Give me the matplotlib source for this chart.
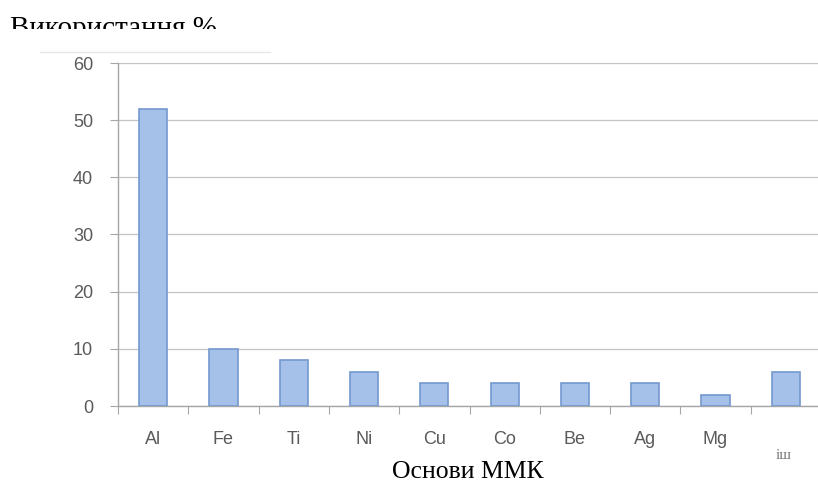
import matplotlib.pyplot as plt
from matplotlib.lines import Line2D
from matplotlib.patches import Rectangle

# share of usage by base metal, %
metals = ['Al', 'Fe', 'Ti', 'Ni', 'Cu', 'Co', 'Be', 'Ag', 'Mg', '']
usage = [52, 10, 8, 6, 4, 4, 4, 4, 2, 6]
y_ticks = [0, 10, 20, 30, 40, 50, 60]

BAR_FACE = '#a5c1ea'
BAR_EDGE = '#7398cf'
AXIS_GREY = '#a6a6a6'
LABEL_GREY = '#5a5a5a'


def draw():
    fig = plt.figure(figsize=(8.18, 4.98), dpi=100)
    ax = fig.add_axes([118 / 818, 92 / 498, 703 / 818, 343 / 498])

    x = list(range(len(metals)))
    ax.bar(x, usage, width=0.4, color=BAR_FACE, edgecolor=BAR_EDGE,
           linewidth=1.2, zorder=3)

    ax.set_xlim(-0.5, len(metals) - 0.5)
    ax.set_ylim(0, 60)
    ax.set_yticks(y_ticks)
    ax.set_yticklabels([str(v) for v in y_ticks], fontsize=13,
                       family='Liberation Sans', color=LABEL_GREY)
    ax.grid(axis='y', color='#c4c4c4', linewidth=0.9, zorder=0)

    # category labels centered, tick marks on the category boundaries
    ax.set_xticks([i - 0.5 for i in range(len(metals) + 1)])
    ax.set_xticklabels([])
    ax.set_xticks(x, minor=True)
    ax.set_xticklabels(metals, minor=True, fontsize=13,
                       family='Liberation Sans', color=LABEL_GREY)
    ax.tick_params(axis='x', which='minor', length=0, pad=18)
    ax.tick_params(axis='x', which='major', length=6, color=AXIS_GREY)
    ax.tick_params(axis='y', length=6, color=AXIS_GREY, pad=12)

    for side in ('top', 'right'):
        ax.spines[side].set_visible(False)
    for side in ('left', 'bottom'):
        ax.spines[side].set_color(AXIS_GREY)
        ax.spines[side].set_linewidth(1.0)

    # label of the last category, partly hidden
    fig.text(784 / 818, 1 - 459 / 498, 'іш', fontsize=11,
             family='Liberation Serif', color='#777777',
             ha='center', va='baseline')

    fig.text(10 / 818, 1 - 36 / 498, 'Використання %', fontsize=21,
             family='Liberation Serif', color='black', va='baseline')
    # cover the lower part of the heading
    fig.add_artist(Rectangle((0, 1 - 44 / 498), 0.5, 15 / 498,
                             transform=fig.transFigure, facecolor='white',
                             edgecolor='none', zorder=10))

    fig.add_artist(Line2D([40 / 818, 270 / 818], [1 - 52 / 498, 1 - 52 / 498],
                          transform=fig.transFigure, color='#e8e8e8',
                          linewidth=1.0))

    fig.text(468 / 818, 1 - 478 / 498, 'Основи ММК', fontsize=18.5,
             family='Liberation Serif', color='black', ha='center',
             va='baseline')

    fig.savefig('out.png', dpi=100)


if __name__ == '__main__':
    draw()
